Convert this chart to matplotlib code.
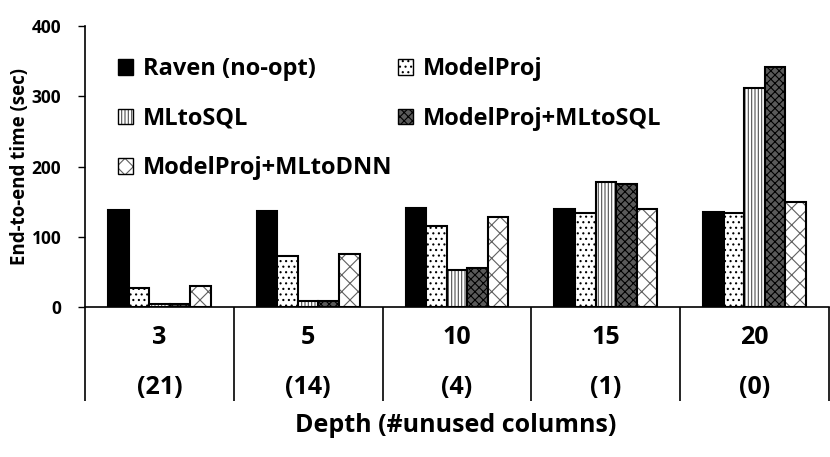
import numpy as np
import matplotlib
matplotlib.use("Agg")
import matplotlib.pyplot as plt
from matplotlib.patches import Patch
from matplotlib.legend_handler import HandlerTuple
from matplotlib.transforms import blended_transform_factory

plt.rcParams['font.family'] = ['Open Sans', 'DejaVu Sans']
plt.rcParams['font.weight'] = 'bold'
plt.rcParams['hatch.linewidth'] = 0.8

# ── Data ─────────────────────────────────────────────────────────────────
depths = ['3', '5', '10', '15', '20']
unused = ['(21)', '(14)', '(4)', '(1)', '(0)']
series = ['Raven (no-opt)', 'ModelProj', 'MLtoSQL', 'ModelProj+MLtoSQL', 'ModelProj+MLtoDNN']
raven = [138, 136, 141, 139, 135]
model_proj = [27, 72, 115, 134, 134]
ml_to_sql = [5, 9, 52, 178, 312]
mp_ml_to_sql = [5, 9, 55, 175, 342]
mp_ml_to_dnn = [30, 75, 128, 139, 149]
values = [raven, model_proj, ml_to_sql, mp_ml_to_sql, mp_ml_to_dnn]

# face, hatch, hatch colour
styles = [
    ('black', '', 'black'),
    ('white', '...', 'black'),
    ('white', '|||||', '#505050'),
    ('#5a5a5a', 'xxxx', 'black'),
    ('white', 'xx', '#606060'),
]

fig = plt.figure(figsize=(8.3, 4.57), dpi=100)
ax = fig.add_axes([0.1024, 0.3282, 0.8964, 0.6148])

x = np.arange(len(depths))
width = 0.138
handles = []
for k, (vals, (fc, hatch, hc)) in enumerate(zip(values, styles)):
    pos = x + (k - 2) * width
    ax.bar(pos, vals, width, color=fc, edgecolor=hc, hatch=hatch, linewidth=0)
    ax.bar(pos, vals, width, fill=False, edgecolor='black', linewidth=1.5)
    h1 = Patch(facecolor=fc, edgecolor=hc, hatch=hatch, linewidth=0)
    h2 = Patch(fill=False, edgecolor='black', linewidth=1.0)
    handles.append((h1, h2))

ax.set_xlim(-0.5, len(depths) - 0.5)
ax.set_ylim(0, 400)
ax.set_yticks([0, 100, 200, 300, 400])
ax.tick_params(axis='y', labelsize=12.5, length=5, width=1, pad=12)
ax.spines['top'].set_visible(False)
ax.spines['right'].set_visible(False)
ax.spines['bottom'].set_linewidth(1.2)
ax.spines['left'].set_linewidth(1.2)

# group separators below the axis
ax.set_xticks(np.arange(len(depths) + 1) - 0.5)
ax.set_xticklabels([])
ax.tick_params(axis='x', length=68, width=1.2, direction='out')

trans = blended_transform_factory(ax.transData, fig.transFigure)
for i in range(len(depths)):
    ax.text(x[i], 1 - 337 / 457, depths[i], transform=trans, ha='center', va='center',
            fontsize=18, fontweight='bold')
    ax.text(x[i], 1 - 387 / 457, unused[i], transform=trans, ha='center', va='center',
            fontsize=18, fontweight='bold')

fig.text(0.549, 1 - 426 / 457, 'Depth (#unused columns)', ha='center', va='center',
         fontsize=18, fontweight='bold')
fig.text(0.024, 1 - 166 / 457, 'End-to-end time (sec)', rotation=90, ha='center', va='center',
         fontsize=13.5, fontweight='bold')

order = [0, 2, 4, 1, 3]
ax.legend([handles[i] for i in order], [series[i] for i in order],
          handler_map={tuple: HandlerTuple(ndivide=1, pad=0)},
          ncol=2, frameon=False, fontsize=17, loc='upper left',
          bbox_to_anchor=(0.016, 0.965), handlelength=0.63, handleheight=0.63,
          handletextpad=0.42, columnspacing=0.25, labelspacing=1.08)

fig.savefig('out.png', dpi=100)
